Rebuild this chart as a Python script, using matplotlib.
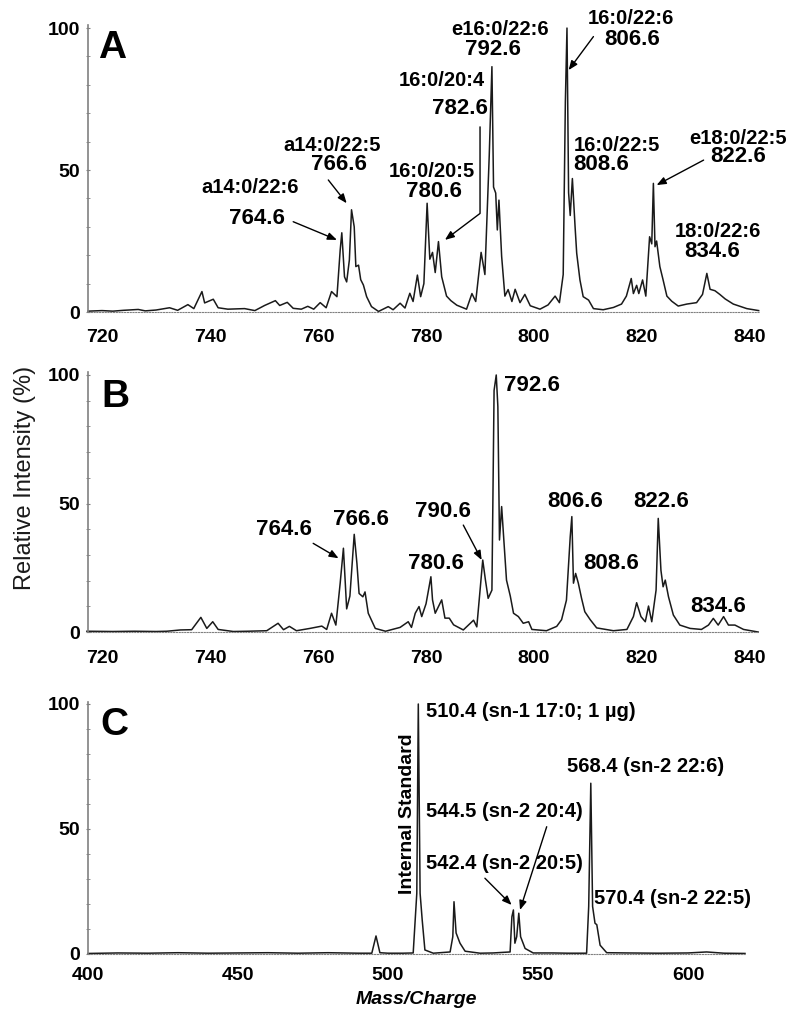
import matplotlib.pyplot as plt
from matplotlib.ticker import MultipleLocator

plt.rcParams['font.family'] = ['Liberation Sans', 'DejaVu Sans']

# panel A spectrum (m/z, relative intensity %)
mz_a = [717.4, 720.0, 722.0, 724.0, 726.7, 728.0, 730.0, 732.5, 734.0, 735.9,
        737.0, 738.5, 739.0, 740.6, 741.5, 743.3, 746.4, 748.3, 750.1, 752.1,
        752.9, 754.3, 755.4, 756.9, 758.1, 759.2, 760.4, 761.5, 762.5, 763.5,
        764.1, 764.4, 764.9, 765.3, 765.8, 766.2, 766.7, 767.0, 767.5, 767.9,
        768.4, 769.0, 769.9, 771.2, 773.0, 773.9, 775.2, 776.1, 777.0, 777.6,
        778.4, 779.0, 779.6, 780.2, 780.7, 781.2, 781.7, 782.3, 782.9, 783.8,
        784.6, 785.7, 787.5, 788.5, 789.2, 790.2, 790.9, 791.7, 792.2, 792.5,
        792.9, 793.2, 793.5, 794.0, 794.6, 795.2, 795.9, 796.5, 797.4, 798.3,
        799.3, 801.1, 802.6, 803.9, 804.7, 805.4, 805.8, 806.1, 806.4, 806.7,
        807.1, 807.6, 807.9, 808.5, 809.1, 810.1, 811.0, 812.8, 814.7, 816.2,
        817.1, 818.0, 818.4, 819.0, 819.4, 820.1, 820.7, 821.4, 821.8, 822.1,
        822.4, 822.7, 823.3, 823.9, 824.6, 825.5, 826.7, 828.3, 830.1, 831.2,
        832.0, 832.6, 833.5, 834.4, 835.4, 836.9, 839.4, 841.6]
int_a = [0.3, 0.5, 0.3, 0.6, 0.9, 0.4, 0.7, 1.5, 0.6, 2.6,
         1.2, 7.2, 3.2, 4.5, 1.5, 1.0, 1.2, 0.5, 2.3, 4.0,
         2.3, 3.4, 1.3, 1.0, 2.0, 1.0, 3.3, 1.5, 7.2, 5.4,
         21.8, 27.9, 12.4, 10.6, 18.3, 36.0, 30.0, 16.0, 16.5, 11.4,
         9.5, 5.4, 1.9, 0.2, 1.9, 0.8, 3.1, 1.4, 6.6, 3.7,
         13.0, 5.4, 10.0, 38.3, 18.6, 21.0, 13.9, 24.8, 12.4, 5.6,
         4.0, 2.4, 1.0, 6.5, 3.7, 21.0, 13.2, 54.9, 86.4, 44.0,
         41.9, 28.9, 39.4, 19.6, 5.6, 7.9, 3.7, 8.0, 3.3, 6.2,
         2.2, 1.0, 2.5, 5.6, 3.3, 13.2, 74.0, 100.0, 42.0, 34.0,
         47.0, 30.0, 20.7, 11.3, 5.4, 4.2, 1.2, 0.8, 1.6, 2.8,
         5.6, 11.8, 6.5, 9.4, 6.5, 11.3, 5.6, 26.5, 24.0, 45.3,
         23.0, 25.0, 16.0, 11.3, 5.6, 3.8, 2.1, 2.8, 3.3, 6.2,
         13.6, 8.0, 7.5, 6.2, 4.6, 2.8, 1.2, 0.5]

# panel B spectrum
mz_b = [717.2, 722.0, 726.0, 730.0, 732.0, 734.5, 736.6, 738.3, 739.4, 740.5,
        741.5, 744.3, 747.0, 750.5, 752.6, 753.6, 754.7, 756.0, 758.5, 760.7,
        761.6, 762.5, 763.3, 764.1, 764.7, 765.3, 765.9, 766.7, 767.2, 767.6,
        768.3, 768.7, 769.3, 770.6, 772.5, 775.2, 776.7, 777.3, 778.0, 778.7,
        779.2, 780.0, 780.9, 781.2, 781.7, 782.9, 783.5, 784.3, 785.1, 786.9,
        788.8, 789.4, 790.5, 791.0, 791.5, 792.2, 792.6, 793.0, 793.3, 793.6,
        794.0, 794.4, 794.9, 795.6, 796.2, 797.1, 798.0, 799.0, 799.6, 802.3,
        804.2, 805.1, 806.0, 806.7, 807.0, 807.3, 807.7, 808.2, 808.8, 809.4,
        810.4, 811.6, 814.7, 817.2, 818.4, 819.0, 819.8, 820.6, 821.2, 821.8,
        822.6, 823.0, 823.5, 823.9, 824.3, 824.9, 825.8, 827.0, 828.9, 831.0,
        832.3, 833.2, 834.1, 835.1, 836.0, 837.2, 838.8, 841.5]
int_b = [0.3, 0.2, 0.3, 0.2, 0.3, 0.8, 0.9, 5.7, 1.4, 4.0,
         1.0, 0.2, 0.3, 0.5, 3.4, 0.9, 2.2, 0.5, 1.4, 2.3,
         1.0, 7.3, 2.7, 19.0, 32.6, 9.0, 14.0, 38.0, 26.7, 15.0,
         13.7, 15.6, 7.3, 1.4, 0.3, 1.8, 4.0, 1.8, 7.3, 9.9,
         6.0, 11.0, 21.5, 12.5, 7.3, 12.5, 5.4, 5.4, 2.8, 0.8,
         4.6, 2.0, 28.0, 20.2, 13.1, 16.3, 94.0, 100.0, 87.7, 35.8,
         48.8, 36.0, 20.2, 14.0, 7.3, 6.0, 3.4, 4.0, 1.0, 0.5,
         2.2, 4.8, 12.4, 37.0, 44.9, 19.0, 22.8, 19.0, 13.1, 7.9,
         4.8, 1.6, 0.5, 1.0, 6.0, 11.4, 6.0, 4.0, 10.1, 4.0,
         16.3, 44.2, 24.0, 17.6, 20.2, 13.7, 6.6, 2.7, 1.4, 1.0,
         2.7, 5.3, 2.7, 6.0, 2.7, 2.7, 1.0, 0.0]

# panel C spectrum
mz_c = [400.0, 410.0, 420.0, 430.0, 440.0, 450.0, 460.0, 470.0, 480.0, 490.0,
        494.6, 496.0, 497.3, 500.0, 505.0, 508.4, 509.6, 510.1, 510.7, 511.4,
        512.3, 515.1, 520.7, 521.6, 522.0, 522.7, 524.0, 525.7, 530.7, 535.0,
        540.7, 541.3, 541.8, 542.3, 542.9, 543.6, 544.2, 545.7, 548.4, 555.0,
        560.0, 566.2, 566.9, 567.6, 568.2, 569.0, 569.6, 570.7, 572.9, 580.0,
        590.0, 600.0, 606.2, 612.0, 619.0]
int_c = [0.2, 0.4, 0.3, 0.5, 0.3, 0.4, 0.5, 0.3, 0.5, 0.3,
         0.3, 7.2, 0.5, 0.3, 0.3, 0.4, 24.3, 100.0, 24.3, 13.6,
         1.6, 0.3, 0.8, 6.9, 20.9, 8.4, 4.3, 1.1, 0.3, 0.4,
         0.8, 14.9, 17.6, 4.3, 6.9, 16.3, 6.9, 2.2, 0.4, 0.4,
         0.3, 0.3, 19.0, 68.3, 19.0, 12.3, 11.7, 3.5, 0.5, 0.4,
         0.3, 0.4, 0.8, 0.3, 0.2]

ticks_a = [720, 740, 760, 780, 800, 820, 840]
ticks_c = [400, 450, 500, 550, 600]
yticks = [0, 50, 100]

GREY = '#808080'
LINE = '#1a1a1a'
arrow_kw = dict(arrowstyle='-|>,head_length=0.55,head_width=0.22', color='k',
                lw=1.0, shrinkA=0, shrinkB=0)

fig = plt.figure(figsize=(8, 10.24), dpi=100)
ax_a = fig.add_axes([0.11, 0.6953, 0.8478, 0.2773])
ax_b = fig.add_axes([0.11, 0.3828, 0.8478, 0.2510])
ax_c = fig.add_axes([0.11, 0.0684, 0.8325, 0.2441])


def style(ax, mz, xlim, xticks, xpad):
    ax.set_xlim(*xlim)
    ax.set_ylim(0, 100)
    for s in ('top', 'right'):
        ax.spines[s].set_visible(False)
    ax.spines['left'].set_color(GREY)
    ax.spines['left'].set_linewidth(1.2)
    ax.spines['left'].set_bounds(0, 101)
    ax.spines['bottom'].set_color(GREY)
    ax.spines['bottom'].set_linestyle((0, (1, 1.5)))
    ax.spines['bottom'].set_bounds(mz[0], mz[-1])
    ax.set_xticks(xticks)
    ax.set_yticks(yticks)
    ax.yaxis.set_minor_locator(MultipleLocator(10))
    ax.tick_params(axis='x', length=0, pad=xpad, labelsize=14)
    ax.tick_params(axis='y', which='both', direction='inout', length=3,
                   color=GREY, pad=4, labelsize=14)
    for lbl in ax.get_xticklabels() + ax.get_yticklabels():
        lbl.set_fontweight('bold')


for ax, mz, inten in ((ax_a, mz_a, int_a), (ax_b, mz_b, int_b), (ax_c, mz_c, int_c)):
    ax.plot(mz, inten, color=LINE, lw=1.1, clip_on=False)

style(ax_a, mz_a, (717.4, 843), ticks_a, 12.5)
style(ax_b, mz_b, (717.4, 843), ticks_a, 13)
style(ax_c, mz_c, (400, 622), ticks_c, 9.5)

name = dict(fontsize=14.5, fontweight='bold', ha='center', va='center')
val = dict(fontsize=16, fontweight='bold', ha='center', va='center')

# panel A
ax_a.text(721.8, 93, 'A', fontsize=28, fontweight='bold', ha='center', va='center')
ax_a.text(747.4, 43.7, 'a14:0/22:6', **name)
ax_a.text(748.6, 33.1, '764.6', **val)
ax_a.annotate('', xy=(763.5, 25.4), xytext=(755.4, 31.8), arrowprops=arrow_kw)
ax_a.text(762.7, 58.8, 'a14:0/22:5', **name)
ax_a.text(763.8, 51.8, '766.6', **val)
ax_a.annotate('', xy=(765.3, 38.3), xytext=(761.9, 46.5), arrowprops=arrow_kw)
ax_a.text(781.0, 49.4, '16:0/20:5', **name)
ax_a.text(781.5, 42.4, '780.6', **val)
ax_a.text(790.9, 81.7, '16:0/20:4', **dict(name, ha='right'))
ax_a.text(786.3, 71.7, '782.6', **val)
ax_a.annotate('', xy=(783.5, 25.4), xytext=(790.0, 65.2),
              arrowprops=dict(arrow_kw, connectionstyle='angle,angleA=90,angleB=37,rad=0'))
ax_a.text(793.7, 99.5, 'e16:0/22:6', **name)
ax_a.text(792.3, 92.3, '792.6', **val)
ax_a.text(817.9, 103.4, '16:0/22:6', **name)
ax_a.text(818.2, 95.8, '806.6', **val)
ax_a.annotate('', xy=(806.4, 85.2), xytext=(811.0, 97.0), arrowprops=arrow_kw)
ax_a.text(807.3, 58.8, '16:0/22:5', **dict(name, ha='left'))
ax_a.text(807.3, 51.8, '808.6', **dict(val, ha='left'))
ax_a.text(837.7, 61.2, 'e18:0/22:5', **name)
ax_a.text(837.8, 54.7, '822.6', **val)
ax_a.annotate('', xy=(822.7, 44.7), xytext=(831.4, 53.5), arrowprops=arrow_kw)
ax_a.text(834.0, 28.3, '18:0/22:6', **name)
ax_a.text(833.0, 21.2, '834.6', **val)

# panel B
ax_b.text(722.4, 91.5, 'B', fontsize=28, fontweight='bold', ha='center', va='center')
ax_b.text(753.7, 39.7, '764.6', **val)
ax_b.annotate('', xy=(763.8, 28.7), xytext=(759.1, 34.5), arrowprops=arrow_kw)
ax_b.text(767.9, 43.6, '766.6', **val)
ax_b.text(781.8, 26.7, '780.6', **val)
ax_b.text(783.1, 46.8, '790.6', **val)
ax_b.annotate('', xy=(790.3, 28.0), xytext=(786.9, 41.6), arrowprops=arrow_kw)
ax_b.text(794.4, 96.1, '792.6', **dict(val, ha='left'))
ax_b.text(807.7, 50.7, '806.6', **val)
ax_b.text(814.2, 26.7, '808.6', **val)
ax_b.text(823.5, 50.7, '822.6', **val)
ax_b.text(834.0, 9.8, '834.6', **val)

# panel C
lab = dict(fontsize=14.5, fontweight='bold', ha='left', va='center')
ax_c.text(408.7, 91.6, 'C', fontsize=28, fontweight='bold', ha='center', va='center')
ax_c.text(506.4, 56, 'Internal Standard', fontsize=14, fontweight='bold',
          rotation=90, ha='center', va='center')
ax_c.text(512.7, 96.9, '510.4 (sn-1 17:0; 1 µg)', **lab)
ax_c.text(559.6, 74.9, '568.4 (sn-2 22:6)', **lab)
ax_c.text(512.7, 56.9, '544.5 (sn-2 20:4)', **lab)
ax_c.text(512.7, 36.3, '542.4 (sn-2 20:5)', **lab)
ax_c.text(568.8, 22.3, '570.4 (sn-2 22:5)', **lab)
ax_c.annotate('', xy=(541.2, 19.6), xytext=(532.3, 30.3), arrowprops=arrow_kw)
ax_c.annotate('', xy=(544.0, 17.6), xytext=(552.9, 50.9), arrowprops=arrow_kw)

fig.text(25 / 800, 1 - 477.5 / 1024, 'Relative Intensity (%)', fontsize=17,
         rotation=90, ha='center', va='center', color='#1a1a1a')
fig.text(416.5 / 800, 1 - 1000 / 1024, 'Mass/Charge', fontsize=14,
         fontweight='bold', fontstyle='italic', ha='center', va='center')

fig.savefig('out.png', dpi=100)
